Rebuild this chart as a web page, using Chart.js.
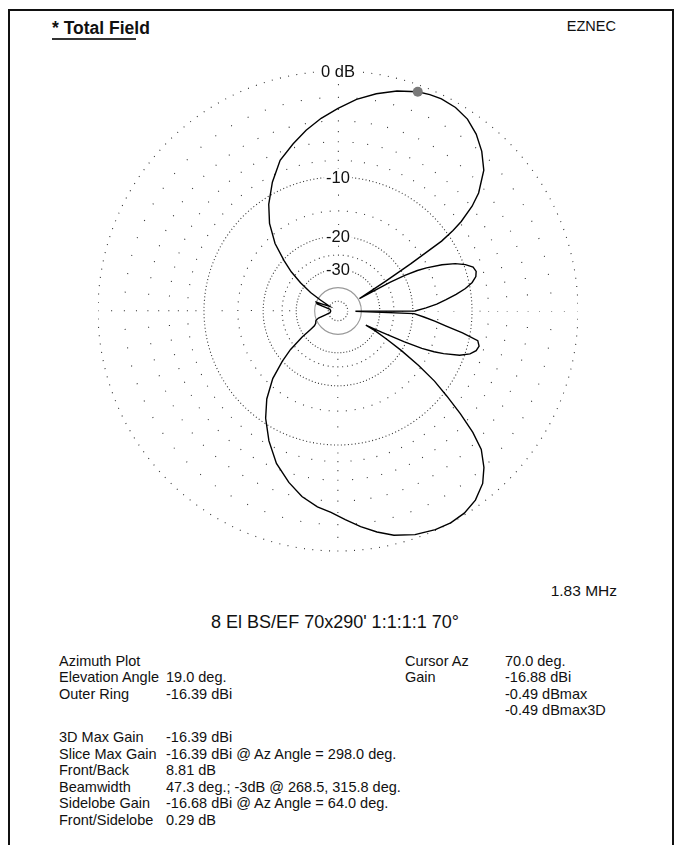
<!DOCTYPE html>
<html>
<head>
<meta charset="utf-8">
<script src="https://cdn.jsdelivr.net/npm/chart.js@4.4.1/dist/chart.umd.min.js"></script>
<style>
  body { margin: 0; background: #fff; width: 679px; height: 845px; overflow: hidden; position: relative;
         font-family: "Liberation Sans", Arial, Helvetica, sans-serif; color: #111; }
  .frame { position: absolute; left: 8px; top: 9px; width: 662px; height: 900px; border: 2px solid #111; }
  .t { position: absolute; white-space: nowrap; line-height: normal; }
  .tb { font-size: 14.5px; }
  #wrap { position: absolute; left: 98px; top: 61px; width: 480px; height: 500px; }
</style>
</head>
<body>
<div class="frame"></div>
<div class="t" style="left:52px;top:18px;font-size:17.5px;font-weight:bold">* Total Field</div>
<div style="position:absolute;left:52px;top:38px;width:84px;height:1.5px;background:#333"></div>
<div class="t" style="right:63px;top:18px;font-size:14.5px">EZNEC</div>
<div class="t" style="right:62px;top:582px;font-size:15.5px">1.83 MHz</div>
<div class="t" style="left:0;width:670px;text-align:center;top:612px;font-size:18px">8 El BS/EF 70x290' 1:1:1:1 70°</div>

<div class="t tb" style="left:59px;top:653px">Azimuth Plot</div>
<div class="t tb" style="left:59px;top:669px">Elevation Angle</div>
<div class="t tb" style="left:166px;top:669px">19.0 deg.</div>
<div class="t tb" style="left:59px;top:686px">Outer Ring</div>
<div class="t tb" style="left:166px;top:686px">-16.39 dBi</div>
<div class="t tb" style="left:405px;top:653px">Cursor Az</div>
<div class="t tb" style="left:505px;top:653px">70.0 deg.</div>
<div class="t tb" style="left:405px;top:669px">Gain</div>
<div class="t tb" style="left:505px;top:669px">-16.88 dBi</div>
<div class="t tb" style="left:505px;top:686px">-0.49 dBmax</div>
<div class="t tb" style="left:505px;top:702px">-0.49 dBmax3D</div>
<div class="t tb" style="left:59px;top:729px">3D Max Gain</div>
<div class="t tb" style="left:166px;top:729px">-16.39 dBi</div>
<div class="t tb" style="left:59px;top:746px">Slice Max Gain</div>
<div class="t tb" style="left:166px;top:746px">-16.39 dBi @ Az Angle = 298.0 deg.</div>
<div class="t tb" style="left:59px;top:762px">Front/Back</div>
<div class="t tb" style="left:166px;top:762px">8.81 dB</div>
<div class="t tb" style="left:59px;top:779px">Beamwidth</div>
<div class="t tb" style="left:166px;top:779px">47.3 deg.; -3dB @ 268.5, 315.8 deg.</div>
<div class="t tb" style="left:59px;top:795px">Sidelobe Gain</div>
<div class="t tb" style="left:166px;top:795px">-16.68 dBi @ Az Angle = 64.0 deg.</div>
<div class="t tb" style="left:59px;top:812px">Front/Sidelobe</div>
<div class="t tb" style="left:166px;top:812px">0.29 dB</div>

<div id="wrap"><canvas id="plot" width="480" height="500"></canvas></div>

<script>
// azimuth (deg, CCW from right) and gain relative to the outer ring (dB)
const azimuths = [0, 2, 4, 6, 8, 10, 12, 14, 16, 18, 20, 22, 24, 26, 27, 28, 29, 30, 31, 32, 33, 34, 35, 36, 38,
  40, 44, 48, 52, 56, 60, 64, 67, 70, 75, 80, 85, 90, 95, 100, 105, 111, 117, 123, 128, 133, 137, 140, 143,
  146, 148, 151, 155, 158, 161, 164, 168, 180, 192, 197, 200, 203, 206, 209, 212, 214, 216, 217, 219, 222,
  226, 231, 236, 242, 248, 254, 259, 264, 268, 272, 276, 280, 284, 289, 294, 298, 302, 306, 310, 313, 316,
  318, 320, 322, 324, 326, 328, 330, 332, 333, 334, 335, 336, 337, 338, 340, 342, 344, 346, 348, 350, 352,
  354, 356, 358, 359];
const gainDb = [-19.5, -17.2, -15.2, -13.6, -12.0, -10.6, -9.6, -9.0, -8.8, -9.0, -9.8, -11.0, -12.8, -15.3,
  -17.0, -19.8, -24, -39, -33, -25, -17.5, -11.2, -9.2, -7.8, -5.9,
  -4.6, -2.9, -1.9, -1.15, -0.62, -0.36, -0.29, -0.36, -0.49, -0.9, -1.45, -2.1, -2.9, -3.7, -4.6, -5.6,
  -6.8, -8.7, -10.9, -13.2, -16.4, -20.3, -23.5, -28,
  -34, -42, -55, -48, -40, -41, -50, -58, -60, -58, -50, -42, -39.6, -39, -38.5, -37, -34, -29, -27.3, -23.5,
  -20, -16.1, -12.9, -10.6, -8.4, -6.5, -5.1, -4.1, -3.4, -3.0, -2.4, -1.75, -1.15, -0.65, -0.25, -0.05, 0,
  -0.12, -0.45, -1.1, -1.97, -3.2,
  -4.8, -7.0, -9.5, -12.0, -15.5, -20.0, -25.0, -30.0, -35, -27.5, -20.5, -16.5, -14.3, -12.8, -10.6, -9.4,
  -8.8, -8.6, -8.9, -11.0, -13.5,
  -15.5, -17.6, -19.7, -45];

const cursorAz = 70;
const cursorDb = -0.49;

// rings of the log grid (dB)
const labeledDb = [0, -10, -20, -30];
const labeledText = ['0 dB', '-10', '-20', '-30'];
const spokeDotDb = [-2, -4, -6, -8, -15, -25];
const axisDotDb = [-1, -3, -5, -7, -9, -12.5, -17.5, -22.5, -27.5];
const solidRingDb = -40;
const innerRingDb = -55;

// ARRL log scale: radius x 0.89 for every 2 dB down
function arrl(db) {
  return Math.pow(0.89, -db / 2);
}

// one label per degree, clockwise from the top, so azimuth runs counter-clockwise from the right
const labels = [];
for (let i = 0; i < 360; i++) labels.push((450 - i) % 360);
const indexOf = az => (450 - az) % 360;

const pattern = labels.map(() => null);
azimuths.forEach((az, k) => { pattern[indexOf(az)] = arrl(gainDb[k]); });
const cursor = labels.map(() => null);
cursor[indexOf(cursorAz)] = arrl(cursorDb);

const ringDb = [innerRingDb, solidRingDb].concat(labeledDb, spokeDotDb, axisDotDb).sort((a, b) => a - b);

function ringDash(ctx) {
  const db = ctx.tick.db;
  const r = ctx.scale.getDistanceFromCenterForValue(ctx.tick.value);
  const c = 2 * Math.PI * r;
  let n;
  if (db === 0) n = 180;
  else if (db === -10) n = 240;
  else if (db === -20) n = 144;
  else if (db === -30) n = 88;
  else if (db === innerRingDb) n = 20;
  else if (db === solidRingDb) return [];
  else if (spokeDotDb.includes(db)) n = 72;
  else n = 4;
  return [1, c / n - 1];
}

const ringLabels = {
  id: 'ringLabels',
  beforeDatasetsDraw(chart) {
    const s = chart.scales.r;
    const c = chart.ctx;
    c.save();
    c.font = '16.5px "Liberation Sans", Arial, sans-serif';
    c.textAlign = 'center';
    c.textBaseline = 'middle';
    labeledDb.forEach((db, k) => {
      const y = s.yCenter - s.getDistanceFromCenterForValue(arrl(db));
      const w = c.measureText(labeledText[k]).width;
      c.fillStyle = '#fff';
      c.fillRect(s.xCenter - w / 2 - 2, y - 8, w + 4, 16);
      c.fillStyle = '#111';
      c.fillText(labeledText[k], s.xCenter, y + 1);
    });
    c.restore();
  }
};

new Chart(document.getElementById('plot'), {
  type: 'radar',
  data: {
    labels: labels,
    datasets: [{
      data: cursor,
      showLine: false,
      borderWidth: 0,
      pointRadius: 5,
      pointHoverRadius: 5,
      pointBorderWidth: 0,
      pointBackgroundColor: '#7a7a7a',
      fill: false
    }, {
      data: pattern,
      spanGaps: true,
      borderColor: '#000',
      borderWidth: 1.4,
      pointRadius: 0,
      pointHoverRadius: 0,
      fill: false,
      tension: 0
    }]
  },
  options: {
    responsive: false,
    animation: false,
    events: [],
    plugins: { legend: { display: false }, tooltip: { enabled: false } },
    scales: {
      r: {
        min: 0,
        max: 1,
        startAngle: 0,
        afterBuildTicks: scale => {
          scale.ticks = [{ value: 0, db: null }].concat(ringDb.map(d => ({ value: arrl(d), db: d })));
        },
        ticks: { display: false, autoSkip: false },
        pointLabels: { display: false },
        angleLines: { display: false },
        grid: {
          circular: true,
          lineWidth: 1.1,
          color: ctx => ctx.tick && ctx.tick.db === solidRingDb ? '#9a9a9a' : '#333'
        },
        border: { dash: ringDash, dashOffset: 0.5 }
      }
    }
  },
  plugins: [ringLabels]
});
</script>
</body>
</html>
